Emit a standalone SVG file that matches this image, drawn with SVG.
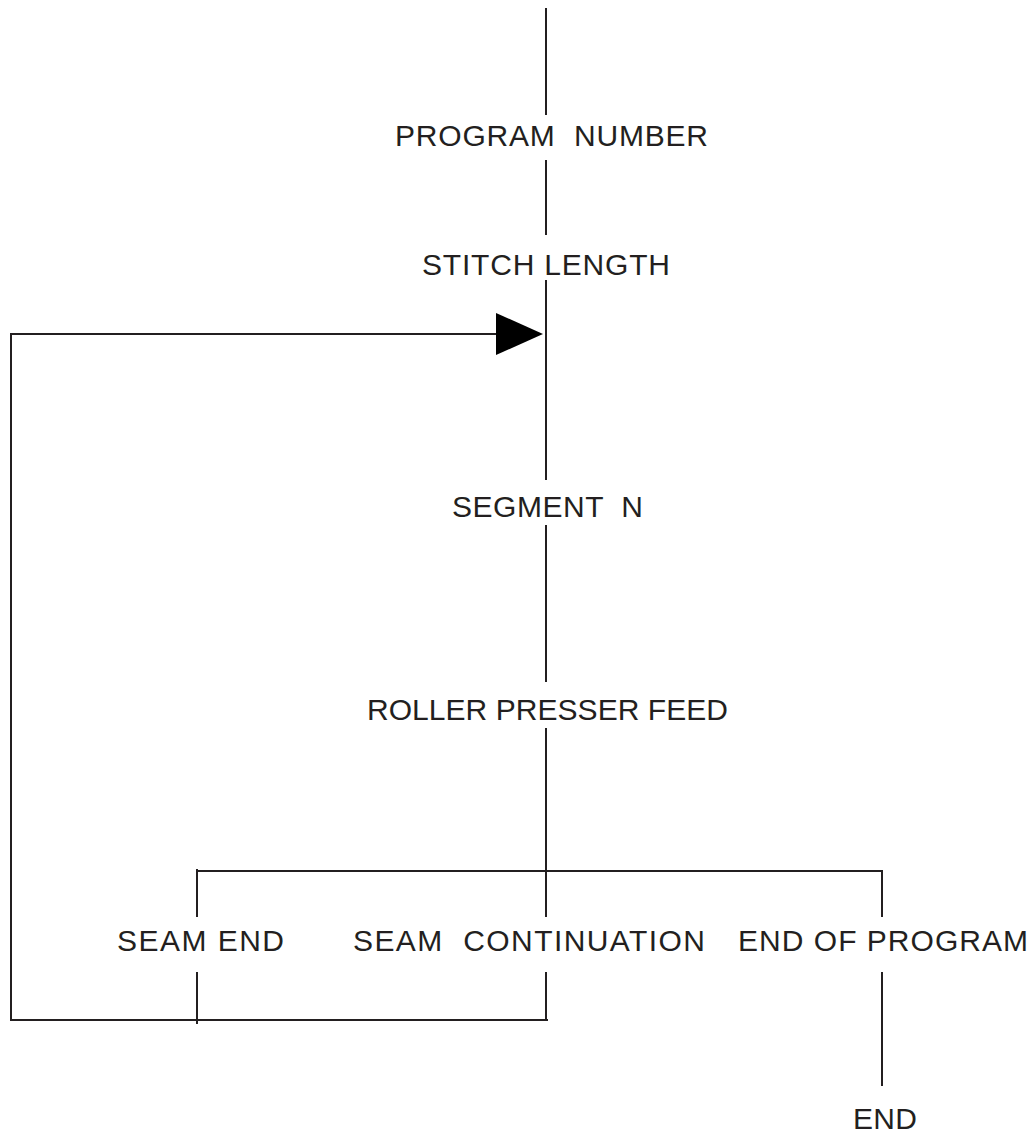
<svg xmlns="http://www.w3.org/2000/svg" width="1036" height="1133" viewBox="0 0 1036 1133" xml:space="preserve">
<style>
  .ln { stroke: #231f20; stroke-width: 2; fill: none; }
  .lbl { font-family: "Liberation Sans", Arial, sans-serif; font-size: 30px; fill: #231f20; white-space: pre; }
  .ah { fill: #000; }
</style>
<rect width="1036" height="1133" fill="#fff"/>
<g id="connectors">
  <line class="ln" x1="546" y1="8" x2="546" y2="115"/>
  <line class="ln" x1="546" y1="160" x2="546" y2="235"/>
  <line class="ln" x1="546" y1="280" x2="546" y2="480"/>
  <line class="ln" x1="546" y1="525" x2="546" y2="682"/>
  <line class="ln" x1="546" y1="728" x2="546" y2="917"/>
  <line class="ln" x1="546" y1="972" x2="546" y2="1021"/>
  <polyline class="ln" points="548,1020 11,1020 11,334 500,334"/>
  <polygon class="ah" points="496,313 543,334 496,355"/>
  <line class="ln" x1="197" y1="871" x2="883" y2="871"/>
  <line class="ln" x1="197" y1="869" x2="197" y2="917"/>
  <line class="ln" x1="197" y1="972" x2="197" y2="1024"/>
  <line class="ln" x1="882" y1="871" x2="882" y2="917"/>
  <line class="ln" x1="882" y1="972" x2="882" y2="1086"/>
</g>
<g id="program-number"><text class="lbl" x="395" y="146" textLength="313" lengthAdjust="spacing">PROGRAM  NUMBER</text></g>
<g id="stitch-length"><text class="lbl" x="422" y="275" textLength="248" lengthAdjust="spacing">STITCH LENGTH</text></g>
<g id="segment-n"><text class="lbl" x="452" y="517" textLength="191" lengthAdjust="spacing">SEGMENT  N</text></g>
<g id="roller-presser-feed"><text class="lbl" x="367" y="720" textLength="361" lengthAdjust="spacing">ROLLER PRESSER FEED</text></g>
<g id="seam-end"><text class="lbl" x="117" y="951" textLength="167" lengthAdjust="spacing">SEAM END</text></g>
<g id="seam-continuation"><text class="lbl" x="353" y="951" textLength="352" lengthAdjust="spacing">SEAM  CONTINUATION</text></g>
<g id="end-of-program"><text class="lbl" x="738" y="951" textLength="290" lengthAdjust="spacing">END OF PROGRAM</text></g>
<g id="end"><text class="lbl" x="853" y="1129" textLength="64" lengthAdjust="spacing">END</text></g>
</svg>
